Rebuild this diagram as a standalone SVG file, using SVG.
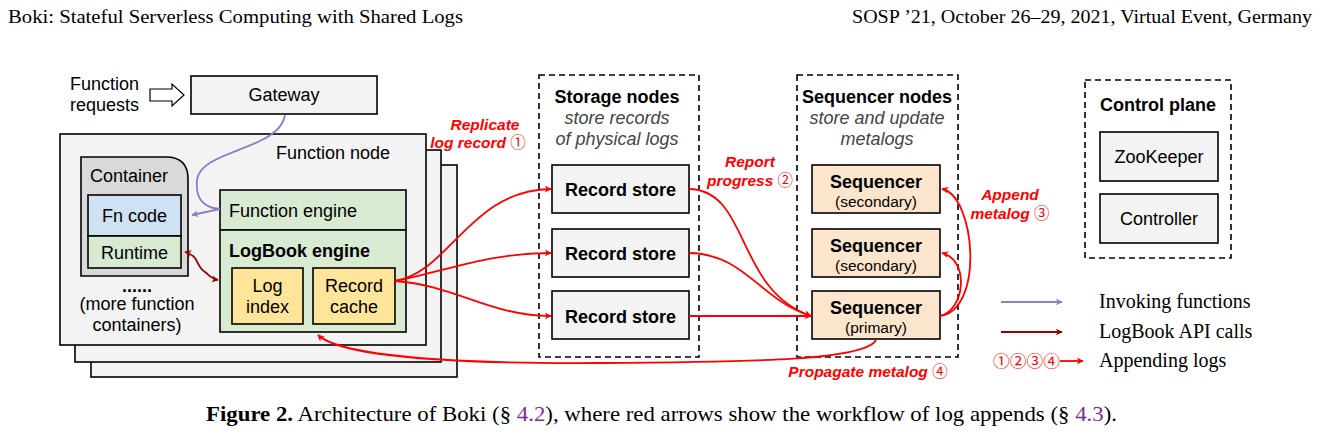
<svg xmlns="http://www.w3.org/2000/svg" width="1320" height="435" viewBox="0 0 1320 435">
<style>
.sans{font-family:"Liberation Sans",Arial,sans-serif}
.serif{font-family:"Liberation Serif","Times New Roman",serif}
.circ{font-family:"Noto Sans CJK JP","Noto Sans CJK SC",sans-serif;font-weight:normal;font-style:normal}
.box{stroke:#000;stroke-width:1.6}
.gray{fill:#f3f3f3}
.dash{fill:none;stroke:#000;stroke-width:1.6;stroke-dasharray:6,4}
.t17{font-size:18px}
.b{font-weight:bold}
.sub{font-style:italic;fill:#444;font-size:18px}
.red{fill:#ff0000;font-weight:bold;font-style:italic;font-size:15.5px}
.rl{fill:none;stroke:#ff0000;stroke-width:1.8}
.pl{fill:none;stroke:#8e7cc3;stroke-width:1.8}
.dl{fill:none;stroke:#990000;stroke-width:1.8}
</style>
<defs>
<marker id="ar" viewBox="0 0 10 10" refX="9" refY="5" markerWidth="7" markerHeight="7" markerUnits="userSpaceOnUse" orient="auto-start-reverse"><path d="M0,0 L10,5 L0,10 L3,5 z" fill="#ff0000"/></marker>
<marker id="ap" viewBox="0 0 10 10" refX="9" refY="5" markerWidth="7" markerHeight="7" markerUnits="userSpaceOnUse" orient="auto-start-reverse"><path d="M0,0 L10,5 L0,10 L3,5 z" fill="#8e7cc3"/></marker>
<marker id="ad" viewBox="0 0 10 10" refX="9" refY="5" markerWidth="7" markerHeight="7" markerUnits="userSpaceOnUse" orient="auto-start-reverse"><path d="M0,0 L10,5 L0,10 L3,5 z" fill="#990000"/></marker>
</defs>
<rect width="1320" height="435" fill="#fff"/>

<text class="serif" x="8" y="23" font-size="18" textLength="455" lengthAdjust="spacingAndGlyphs">Boki: Stateful Serverless Computing with Shared Logs</text>
<text class="serif" x="852" y="23" font-size="18" textLength="460" lengthAdjust="spacingAndGlyphs">SOSP ’21, October 26–29, 2021, Virtual Event, Germany</text>

<g id="function-requests">
<text class="sans t17" x="70" y="90">Function</text>
<text class="sans t17" x="70" y="111">requests</text>
<path d="M150,89 L172,89 L172,84 L184,95 L172,106 L172,101 L150,101 z" fill="#fff" stroke="#000" stroke-width="1.2"/>
</g>

<g id="gateway">
<rect class="box gray" x="191" y="76" width="186" height="38"/>
<text class="sans t17" x="284" y="101" text-anchor="middle">Gateway</text>
</g>

<g id="function-node">
<rect class="box gray" x="91" y="165" width="366" height="212"/>
<rect class="box gray" x="75" y="150" width="366" height="212"/>
<rect class="box gray" x="60" y="134" width="366" height="211"/>
<text class="sans t17" x="276" y="159">Function node</text>
</g>

<g id="container">
<path class="box" d="M81,157 L166,157 Q188,157 188,179 L188,276 L81,276 z" fill="#d9d9d9"/>
<text class="sans t17" x="90" y="182">Container</text>
<rect class="box" x="88" y="195" width="93" height="41" fill="#cfe2f3"/>
<text class="sans t17" x="134.5" y="222" text-anchor="middle">Fn code</text>
<rect class="box" x="88" y="236" width="93" height="32" fill="#d9ead3"/>
<text class="sans t17" x="134.5" y="259" text-anchor="middle">Runtime</text>
<text class="sans t17" x="137" y="292" text-anchor="middle" font-weight="bold">......</text>
<text class="sans t17" x="137" y="310" text-anchor="middle">(more function</text>
<text class="sans t17" x="137" y="331" text-anchor="middle">containers)</text>
</g>

<g id="function-engine">
<rect class="box" x="220" y="190" width="186" height="40" fill="#d9ead3"/>
<text class="sans t17" x="229" y="217">Function engine</text>
</g>

<g id="logbook-engine">
<rect class="box" x="220" y="230" width="186" height="102" fill="#d9ead3"/>
<text class="sans t17 b" x="229" y="257">LogBook engine</text>
<rect class="box" x="232" y="268" width="71" height="56" fill="#ffe599"/>
<text class="sans t17" x="267.5" y="292" text-anchor="middle">Log</text>
<text class="sans t17" x="267.5" y="313" text-anchor="middle">index</text>
<rect class="box" x="313" y="268" width="82" height="56" fill="#ffe599"/>
<text class="sans t17" x="354" y="292" text-anchor="middle">Record</text>
<text class="sans t17" x="354" y="313" text-anchor="middle">cache</text>
</g>

<g id="storage-nodes">
<rect class="dash" x="539" y="75" width="160" height="282"/>
<text class="sans t17 b" x="617" y="103" text-anchor="middle">Storage nodes</text>
<text class="sans sub" x="617" y="124" text-anchor="middle">store records</text>
<text class="sans sub" x="617" y="145" text-anchor="middle">of physical logs</text>
</g>
<g id="record-store-1">
<rect class="box gray" x="552" y="165" width="137" height="48"/>
<text class="sans t17 b" x="620.5" y="196" text-anchor="middle">Record store</text>
</g>
<g id="record-store-2">
<rect class="box gray" x="552" y="229" width="137" height="48"/>
<text class="sans t17 b" x="620.5" y="260" text-anchor="middle">Record store</text>
</g>
<g id="record-store-3">
<rect class="box gray" x="552" y="291" width="137" height="48"/>
<text class="sans t17 b" x="620.5" y="323" text-anchor="middle">Record store</text>
</g>

<g id="sequencer-nodes">
<rect class="dash" x="797" y="75" width="161" height="282"/>
<text class="sans t17 b" x="877" y="103" text-anchor="middle">Sequencer nodes</text>
<text class="sans sub" x="877" y="124" text-anchor="middle">store and update</text>
<text class="sans sub" x="877" y="145" text-anchor="middle">metalogs</text>
</g>
<g id="sequencer-secondary-1">
<rect class="box" x="812" y="165" width="128" height="48" fill="#fce5cd"/>
<text class="sans t17 b" x="876" y="188" text-anchor="middle">Sequencer</text>
<text class="sans" x="876" y="207" text-anchor="middle" font-size="15.5">(secondary)</text>
</g>
<g id="sequencer-secondary-2">
<rect class="box" x="812" y="229" width="128" height="48" fill="#fce5cd"/>
<text class="sans t17 b" x="876" y="252" text-anchor="middle">Sequencer</text>
<text class="sans" x="876" y="271" text-anchor="middle" font-size="15.5">(secondary)</text>
</g>
<g id="sequencer-primary">
<rect class="box" x="812" y="291" width="128" height="48" fill="#fce5cd"/>
<text class="sans t17 b" x="876" y="314" text-anchor="middle">Sequencer</text>
<text class="sans" x="876" y="333" text-anchor="middle" font-size="15.5">(primary)</text>
</g>

<g id="control-plane">
<rect class="dash" x="1085" y="80" width="146" height="178"/>
<text class="sans t17 b" x="1158" y="111" text-anchor="middle">Control plane</text>
</g>
<g id="zookeeper">
<rect class="box gray" x="1100" y="132" width="118" height="49"/>
<text class="sans t17" x="1159" y="163" text-anchor="middle">ZooKeeper</text>
</g>
<g id="controller">
<rect class="box gray" x="1100" y="194" width="118" height="49"/>
<text class="sans t17" x="1159" y="225" text-anchor="middle">Controller</text>
</g>

<g id="connectors">
<path class="pl" d="M285,115 C280,150 200,150 197,180 C195,200 205,208 220,209 L192,215" marker-end="url(#ap)"/>
<path class="dl" d="M185,252 C200,256 195,266 205,272 C210,276 212,279 218,280" marker-start="url(#ad)" marker-end="url(#ad)"/>
<path class="rl" d="M395,281 C450,272 470,190 551,189" marker-end="url(#ar)"/>
<path class="rl" d="M395,281 C450,270 490,253 551,253" marker-end="url(#ar)"/>
<path class="rl" d="M395,281 C455,285 490,316 551,316" marker-end="url(#ar)"/>
<path class="rl" d="M689,189 C750,190 735,290 811,316" marker-end="url(#ar)"/>
<path class="rl" d="M689,253 C745,254 760,300 811,316" marker-end="url(#ar)"/>
<path class="rl" d="M689,316 L811,316" marker-end="url(#ar)"/>
<path class="rl" d="M940,316 C985,310 975,195 942,189" marker-end="url(#ar)"/>
<path class="rl" d="M940,316 C965,310 970,260 942,253" marker-end="url(#ar)"/>
<path class="rl" d="M876,340 C865,360 760,362 600,363 C450,364 340,356 318,335" marker-end="url(#ar)"/>
</g>

<g id="labels">
<text class="sans red" x="485" y="130" text-anchor="middle">Replicate</text>
<text class="sans red" x="478" y="148" text-anchor="middle">log record <tspan class="circ">①</tspan></text>
<text class="sans red" x="750" y="167" text-anchor="middle">Report</text>
<text class="sans red" x="750" y="186" text-anchor="middle">progress <tspan class="circ">②</tspan></text>
<text class="sans red" x="1010" y="200" text-anchor="middle">Append</text>
<text class="sans red" x="1010" y="219" text-anchor="middle">metalog <tspan class="circ">③</tspan></text>
<text class="sans red" x="868" y="377" text-anchor="middle">Propagate metalog <tspan class="circ">④</tspan></text>
</g>

<g id="legend">
<line class="pl" x1="1001" y1="302" x2="1062" y2="302" marker-end="url(#ap)"/>
<line class="dl" x1="1001" y1="332" x2="1062" y2="332" marker-end="url(#ad)"/>
<text class="circ" x="993" y="367" font-size="16" fill="#ff0000" textLength="67" lengthAdjust="spacingAndGlyphs">①②③④</text>
<line class="rl" x1="1060" y1="361" x2="1083" y2="361" marker-end="url(#ar)"/>
<text class="serif" x="1099" y="308" font-size="20">Invoking functions</text>
<text class="serif" x="1099" y="338" font-size="20">LogBook API calls</text>
<text class="serif" x="1099" y="367" font-size="20">Appending logs</text>
</g>

<text class="serif" x="206" y="421" font-size="21" textLength="911" lengthAdjust="spacingAndGlyphs"><tspan font-weight="bold">Figure 2.</tspan> Architecture of Boki (§ <tspan fill="#7b2c8f">4.2</tspan>), where red arrows show the workflow of log appends (§ <tspan fill="#7b2c8f">4.3</tspan>).</text>
</svg>
